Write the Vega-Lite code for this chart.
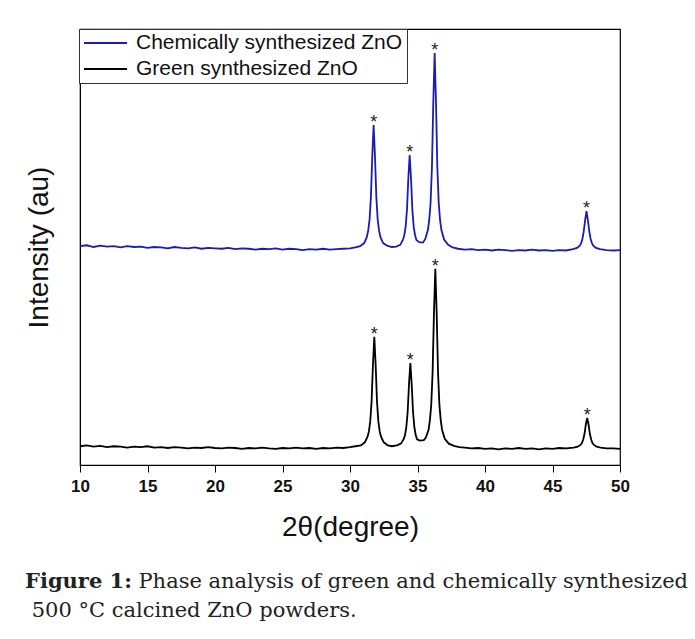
{
  "$schema": "https://vega.github.io/schema/vega-lite/v6.json",
  "width": 540,
  "height": 436,
  "autosize": {"type": "none"},
  "padding": {"left": 80, "top": 29, "right": 75, "bottom": 174},
  "background": "white",
  "config": {"view": {"stroke": "black", "strokeWidth": 1.2}, "font": "Liberation Sans"},
  "title": {
    "text": "Figure 1:",
    "subtitle": ["\u200b\u00a0\u00a0\u00a0\u00a0\u00a0\u00a0\u00a0\u00a0\u00a0\u00a0\u00a0\u00a0\u00a0\u00a0\u00a0\u00a0\u00a0Phase analysis of green and chemically synthesized", "\u200b\u00a0500 °C calcined ZnO powders."],
    "orient": "bottom",
    "anchor": "start",
    "frame": "group",
    "dx": -55,
    "offset": 30,
    "font": "DejaVu Serif",
    "fontSize": 21,
    "fontWeight": "bold",
    "color": "#222",
    "subtitleFont": "DejaVu Serif",
    "subtitleFontSize": 21,
    "subtitleFontWeight": "normal",
    "subtitleColor": "#222",
    "subtitlePadding": -21,
    "subtitleLineHeight": 29
  },
  "datasets": {
    "chem": [
      {"x":10,"y":502},{"x":10.5,"y":504},{"x":11,"y":500},{"x":11.5,"y":503},{"x":12,"y":501},{"x":12.5,"y":502},{"x":13,"y":499},{"x":13.5,"y":502},{"x":14,"y":500},{"x":14.5,"y":501},{"x":15,"y":498},{"x":15.5,"y":500},{"x":16,"y":499},{"x":16.5,"y":497},{"x":17,"y":500},{"x":17.5,"y":498},{"x":18,"y":497},{"x":18.5,"y":499},{"x":19,"y":496},{"x":19.5,"y":498},{"x":20,"y":497},{"x":20.5,"y":496},{"x":21,"y":498},{"x":21.5,"y":495},{"x":22,"y":497},{"x":22.5,"y":496},{"x":23,"y":494},{"x":23.5,"y":496},{"x":24,"y":495},{"x":24.5,"y":497},{"x":25,"y":494},{"x":25.5,"y":496},{"x":26,"y":495},{"x":26.5,"y":493},{"x":27,"y":495},{"x":27.5,"y":494},{"x":28,"y":496},{"x":28.5,"y":494},{"x":29,"y":495},{"x":29.5,"y":496},{"x":30,"y":497},{"x":30.4,"y":499},{"x":30.75,"y":502},{"x":31.05,"y":509},{"x":31.25,"y":523},{"x":31.35,"y":538},{"x":31.45,"y":563},{"x":31.55,"y":615},{"x":31.65,"y":709},{"x":31.75,"y":780},{"x":31.85,"y":709},{"x":31.95,"y":615},{"x":32.05,"y":563},{"x":32.15,"y":538},{"x":32.25,"y":523},{"x":32.45,"y":509},{"x":32.75,"y":503},{"x":33.1,"y":500},{"x":33.42,"y":501},{"x":33.72,"y":505},{"x":33.92,"y":516},{"x":34.02,"y":527},{"x":34.12,"y":546},{"x":34.22,"y":585},{"x":34.32,"y":657},{"x":34.42,"y":711},{"x":34.52,"y":657},{"x":34.62,"y":585},{"x":34.72,"y":546},{"x":34.82,"y":527},{"x":34.92,"y":516},{"x":35.12,"y":511},{"x":35.4,"y":510},{"x":35.57,"y":518},{"x":35.77,"y":539},{"x":35.87,"y":562},{"x":35.97,"y":602},{"x":36.07,"y":683},{"x":36.17,"y":832},{"x":36.27,"y":945},{"x":36.37,"y":832},{"x":36.47,"y":683},{"x":36.57,"y":602},{"x":36.67,"y":562},{"x":36.77,"y":539},{"x":36.97,"y":517},{"x":37.27,"y":505},{"x":37.6,"y":499},{"x":38,"y":496},{"x":38.5,"y":494},{"x":39,"y":495},{"x":39.5,"y":493},{"x":40,"y":494},{"x":40.5,"y":492},{"x":41,"y":494},{"x":41.5,"y":493},{"x":42,"y":491},{"x":42.5,"y":493},{"x":43,"y":492},{"x":43.5,"y":494},{"x":44,"y":492},{"x":44.5,"y":493},{"x":45,"y":491},{"x":45.5,"y":493},{"x":46,"y":492},{"x":46.52,"y":495},{"x":46.82,"y":498},{"x":47.02,"y":503},{"x":47.12,"y":509},{"x":47.22,"y":519},{"x":47.32,"y":537},{"x":47.42,"y":562},{"x":47.52,"y":582},{"x":47.62,"y":562},{"x":47.72,"y":537},{"x":47.82,"y":519},{"x":47.92,"y":509},{"x":48.02,"y":503},{"x":48.22,"y":498},{"x":48.52,"y":495},{"x":49,"y":493},{"x":49.5,"y":492},{"x":50,"y":493}
    ],
    "green": [
      {"x":10,"y":43},{"x":10.5,"y":45},{"x":11,"y":42},{"x":11.5,"y":44},{"x":12,"y":41},{"x":12.5,"y":43},{"x":13,"y":42},{"x":13.5,"y":40},{"x":14,"y":42},{"x":14.5,"y":41},{"x":15,"y":43},{"x":15.5,"y":40},{"x":16,"y":41},{"x":16.5,"y":39},{"x":17,"y":41},{"x":17.5,"y":40},{"x":18,"y":38},{"x":18.5,"y":40},{"x":19,"y":39},{"x":19.5,"y":41},{"x":20,"y":39},{"x":20.5,"y":38},{"x":21,"y":40},{"x":21.5,"y":39},{"x":22,"y":37},{"x":22.5,"y":39},{"x":23,"y":38},{"x":23.5,"y":40},{"x":24,"y":38},{"x":24.5,"y":37},{"x":25,"y":39},{"x":25.5,"y":38},{"x":26,"y":40},{"x":26.5,"y":38},{"x":27,"y":39},{"x":27.5,"y":37},{"x":28,"y":39},{"x":28.5,"y":38},{"x":29,"y":40},{"x":29.5,"y":39},{"x":30,"y":41},{"x":30.4,"y":43},{"x":30.8,"y":45},{"x":31.1,"y":52},{"x":31.3,"y":65},{"x":31.4,"y":77},{"x":31.5,"y":100},{"x":31.6,"y":146},{"x":31.7,"y":230},{"x":31.8,"y":294},{"x":31.9,"y":230},{"x":32.0,"y":146},{"x":32.1,"y":100},{"x":32.2,"y":77},{"x":32.3,"y":65},{"x":32.5,"y":52},{"x":32.8,"y":45},{"x":33.1,"y":43},{"x":33.47,"y":45},{"x":33.77,"y":49},{"x":33.97,"y":59},{"x":34.07,"y":68},{"x":34.17,"y":86},{"x":34.27,"y":121},{"x":34.37,"y":185},{"x":34.47,"y":234},{"x":34.57,"y":185},{"x":34.67,"y":121},{"x":34.77,"y":86},{"x":34.87,"y":68},{"x":34.97,"y":59},{"x":35.17,"y":56},{"x":35.47,"y":57},{"x":35.62,"y":63},{"x":35.82,"y":81},{"x":35.92,"y":103},{"x":36.02,"y":139},{"x":36.12,"y":213},{"x":36.22,"y":349},{"x":36.32,"y":450},{"x":36.42,"y":349},{"x":36.52,"y":213},{"x":36.62,"y":139},{"x":36.72,"y":103},{"x":36.82,"y":81},{"x":37.02,"y":60},{"x":37.32,"y":49},{"x":37.7,"y":44},{"x":38.1,"y":41},{"x":38.5,"y":40},{"x":39,"y":38},{"x":39.5,"y":39},{"x":40,"y":37},{"x":40.5,"y":38},{"x":41,"y":36},{"x":41.5,"y":38},{"x":42,"y":37},{"x":42.5,"y":39},{"x":43,"y":37},{"x":43.5,"y":38},{"x":44,"y":36},{"x":44.5,"y":38},{"x":45,"y":37},{"x":45.5,"y":39},{"x":46,"y":38},{"x":46.57,"y":40},{"x":46.87,"y":42},{"x":47.07,"y":46},{"x":47.17,"y":50},{"x":47.27,"y":58},{"x":47.37,"y":71},{"x":47.47,"y":93},{"x":47.57,"y":108},{"x":47.67,"y":93},{"x":47.77,"y":71},{"x":47.87,"y":58},{"x":47.97,"y":50},{"x":48.07,"y":46},{"x":48.27,"y":42},{"x":48.57,"y":40},{"x":49,"y":38},{"x":49.5,"y":38},{"x":50,"y":37}
    ],
    "stars": [
      {"x":31.75,"y":780},{"x":34.42,"y":711},{"x":36.27,"y":945},{"x":47.52,"y":582},
      {"x":31.8,"y":294},{"x":34.47,"y":234},{"x":36.32,"y":450},{"x":47.57,"y":108}
    ]
  },
  "layer": [
    {
      "data": {"name": "chem"},
      "mark": {"type": "line", "strokeWidth": 1.8},
      "encoding": {
        "x": {
          "field": "x", "type": "quantitative",
          "scale": {"domain": [10, 50], "nice": false, "zero": false},
          "axis": {
            "values": [10, 12.5, 15, 17.5, 20, 22.5, 25, 27.5, 30, 32.5, 35, 37.5, 40, 42.5, 45, 47.5, 50],
            "labelExpr": "datum.value % 5 === 0 ? datum.label : ''",
            "title": "2θ(degree)",
            "titleFont": "Liberation Sans", "titleFontSize": 28, "titleFontWeight": "normal", "titleColor": "#111", "titlePadding": 19,
            "labelFont": "Liberation Sans", "labelFontSize": 17, "labelFontWeight": "bold", "labelColor": "#111", "labelPadding": 6,
            "labelFlush": false, "labelOverlap": false,
            "tickSize": {"condition": {"test": "datum.value % 5 === 0", "value": 7}, "value": 4},
            "tickColor": "black", "domainColor": "black", "grid": false
          }
        },
        "y": {
          "field": "y", "type": "quantitative",
          "scale": {"domain": [0, 1000], "nice": false},
          "axis": {
            "title": "Intensity (au)", "ticks": false, "labels": false, "grid": false, "domainColor": "black",
            "titleFont": "Liberation Sans", "titleFontSize": 28, "titleFontWeight": "normal", "titleColor": "#111", "titlePadding": 27
          }
        },
        "color": {
          "datum": "Chemically synthesized ZnO",
          "scale": {"domain": ["Chemically synthesized ZnO", "Green synthesized ZnO"], "range": ["#1c1cb0", "#000000"]},
          "legend": {
            "orient": "none", "legendX": -1, "legendY": 0, "title": null,
            "symbolType": "stroke", "symbolSize": 1849, "symbolStrokeWidth": 2,
            "labelFont": "Liberation Sans", "labelFontSize": 21, "labelColor": "#111", "labelOffset": 8, "labelLimit": 400,
            "strokeColor": "#333", "fillColor": "white", "padding": 4, "rowPadding": 5, "clipHeight": 20
          }
        }
      }
    },
    {
      "data": {"name": "green"},
      "mark": {"type": "line", "strokeWidth": 1.8},
      "encoding": {
        "x": {"field": "x", "type": "quantitative"},
        "y": {"field": "y", "type": "quantitative"},
        "color": {"datum": "Green synthesized ZnO"}
      }
    },
    {
      "data": {"name": "stars"},
      "mark": {"type": "text", "fontSize": 18, "color": "#222", "baseline": "alphabetic", "dy": 3, "font": "Liberation Sans"},
      "encoding": {
        "x": {"field": "x", "type": "quantitative"},
        "y": {"field": "y", "type": "quantitative"},
        "text": {"value": "*"}
      }
    }
  ]
}
